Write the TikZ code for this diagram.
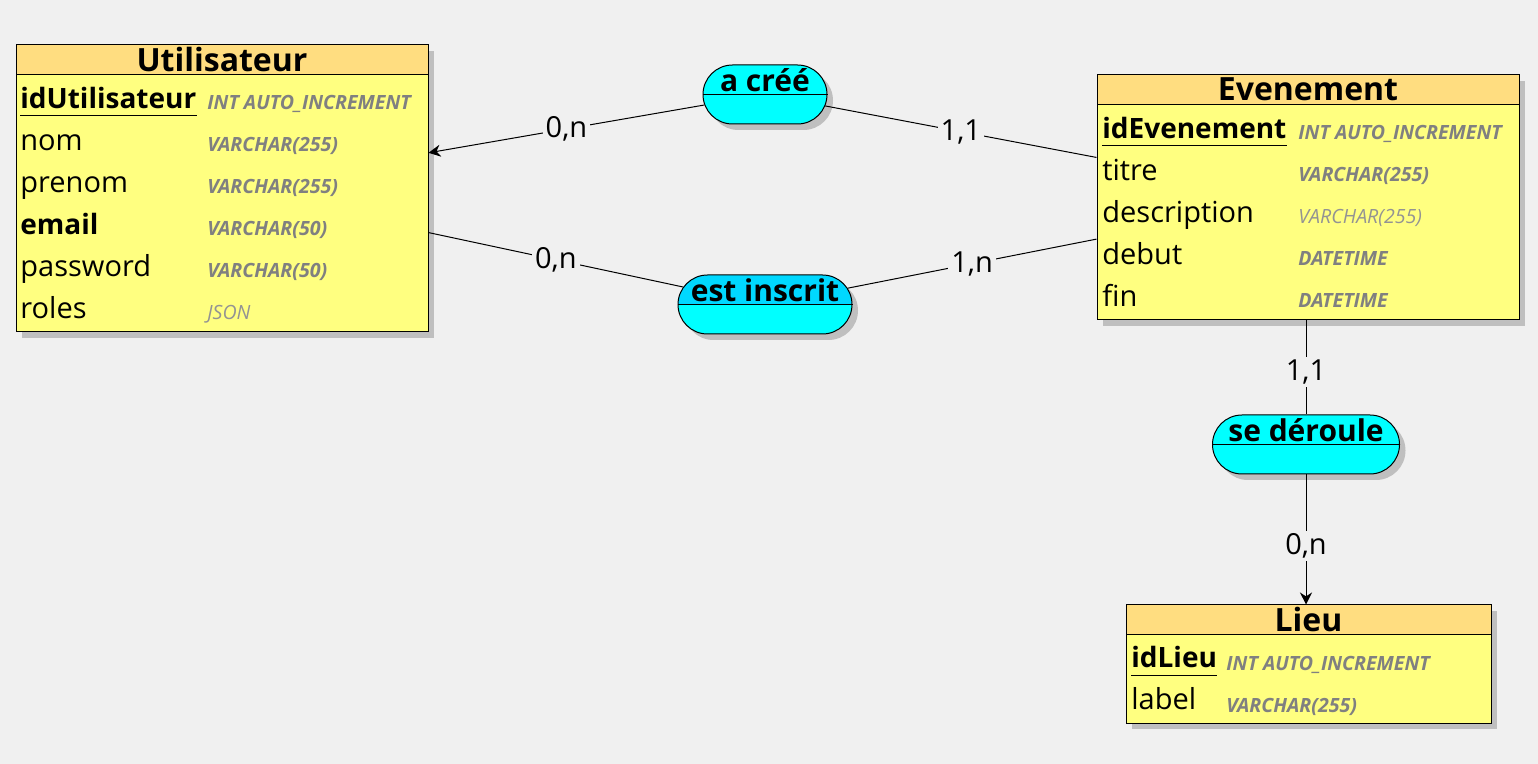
\documentclass[tikz,border=0pt]{standalone}
\usepackage{fontspec}
\setmainfont{Open Sans}
\usetikzlibrary{shapes.misc,shadows,arrows.meta}

\definecolor{bg}{HTML}{F0F0F0}
\definecolor{headcol}{HTML}{FFDD80}
\definecolor{bodycol}{HTML}{FFFF80}
\definecolor{assoccol}{HTML}{00FFFF}
\definecolor{assoctop}{HTML}{00D8FF}
\definecolor{typecol}{HTML}{808080}

\tikzset{
  entity/.style={rectangle,draw=black,fill=bodycol,line width=0.5pt,
    drop shadow={shadow xshift=3pt,shadow yshift=-3pt,fill=black!25,opacity=1}},
  head/.style={rectangle,draw=black,fill=headcol,line width=0.5pt,anchor=north,
    inner sep=0pt,text depth=1pt,font=\fontsize{16}{16}\selectfont\bfseries},
  attr/.style={anchor=base west,inner sep=0pt,font=\fontsize{14.5}{15}\selectfont},
  key/.style={attr,font=\fontsize{14}{15}\selectfont\bfseries},
  type/.style={anchor=base west,inner sep=0pt,text=typecol,
    font=\fontsize{9.8}{10}\selectfont\bfseries\itshape},
  ltype/.style={type,text=typecol!85,font=\fontsize{9.8}{10}\selectfont\itshape},
  assoc/.style={rounded rectangle,draw=black,fill=assoccol,line width=0.5pt,
    minimum height=29.5pt,inner sep=0pt,
    drop shadow={shadow xshift=3pt,shadow yshift=-3pt,fill=black!25,opacity=1}},
  assoclabel/.style={inner sep=0pt,font=\fontsize{15}{15}\selectfont\bfseries},
  card/.style={fill=bg,inner sep=1.5pt,font=\fontsize{14.5}{15}\selectfont},
  link/.style={draw=black,line width=0.5pt}
}

\begin{document}
\begin{tikzpicture}[x=0.5pt,y=-0.5pt]
   \fill[bg] (0,0) rectangle (1538,764);
   \useasboundingbox (0,0) rectangle (1538,764);

   % entities
   \node[entity,minimum width=206pt,minimum height=143.5pt] (util) at (222,188.5) {};
   \node[head,minimum width=206pt,minimum height=15pt] (utilhead) at (util.north) {Utilisateur};
   \node[key] (utilid) at (20,109) {idUtilisateur};
   \node[attr] (utilnom) at (20,151) {nom};
   \node[attr] (utilprenom) at (20,193) {prenom};
   \node[key] (utilemail) at (20,235) {email};
   \node[attr] (utilpass) at (20,277) {password};
   \node[attr] (utilroles) at (20,319) {roles};
   \node[type] (utilidt) at (207,110) {INT AUTO\_INCREMENT};
   \node[type] (utilnomt) at (207,152) {VARCHAR(255)};
   \node[type] (utilprenomt) at (207,194) {VARCHAR(255)};
   \node[type] (utilemailt) at (207,236) {VARCHAR(50)};
   \node[type] (utilpasst) at (207,278) {VARCHAR(50)};
   \node[ltype] (utilrolest) at (207,320) {JSON};
   \draw[line width=0.5pt] ([yshift=-3.5pt]utilid.base west) -- ([yshift=-3.5pt]utilid.base east);

   \node[entity,minimum width=211pt,minimum height=122.5pt] (even) at (1308,197.5) {};
   \node[head,minimum width=211pt,minimum height=15pt] (evenhead) at (even.north) {Evenement};
   \node[key] (evenid) at (1102,139) {idEvenement};
   \node[attr] (eventitre) at (1102,181) {titre};
   \node[attr] (evendesc) at (1102,223) {description};
   \node[attr] (evendebut) at (1102,265) {debut};
   \node[attr] (evenfin) at (1102,307) {fin};
   \node[type] (evenidt) at (1298,140) {INT AUTO\_INCREMENT};
   \node[type] (eventitret) at (1298,182) {VARCHAR(255)};
   \node[ltype] (evendesct) at (1298,224) {VARCHAR(255)};
   \node[type] (evendebutt) at (1298,266) {DATETIME};
   \node[type] (evenfint) at (1298,308) {DATETIME};
   \draw[line width=0.5pt] ([yshift=-3.5pt]evenid.base west) -- ([yshift=-3.5pt]evenid.base east);

   \node[entity,minimum width=182.5pt,minimum height=59pt] (lieu) at (1308.5,664) {};
   \node[head,minimum width=182.5pt,minimum height=15pt] (lieuhead) at (lieu.north) {Lieu};
   \node[key] (lieuid) at (1131,668) {idLieu};
   \node[attr] (lieulabel) at (1131,710) {label};
   \node[type] (lieuidt) at (1226,670) {INT AUTO\_INCREMENT};
   \node[type] (lieulabelt) at (1226,712) {VARCHAR(255)};
   \draw[line width=0.5pt] ([yshift=-3.5pt]lieuid.base west) -- ([yshift=-3.5pt]lieuid.base east);

   % associations
   \node[assoc,minimum width=62pt] (acree) at (765,94.5) {};
   \node[assoc,minimum width=87pt,
     path picture={\fill[assoctop] (path picture bounding box.north west) rectangle (path picture bounding box.east);}]
     (inscrit) at (765,304.5) {};
   \node[assoc,minimum width=93.5pt] (deroule) at (1306,444.5) {};
   \draw[line width=0.5pt] (acree.west) -- (acree.east);
   \draw[line width=0.5pt] (inscrit.west) -- (inscrit.east);
   \draw[line width=0.5pt] (deroule.west) -- (deroule.east);
   \node[assoclabel,anchor=base] (acreelabel) at (765,92) {a créé};
   \node[assoclabel,anchor=base] (inscritlabel) at (765,302) {est inscrit};
   \node[assoclabel,anchor=base] (deroulelabel) at (1306,442) {se déroule};

   % links
   \draw[link,-{Stealth[length=6pt,width=6pt]}] (acree) -- node[card]{0,n} (util);
   \draw[link] (acree) -- node[card]{1,1} (even);
   \draw[link] (util) -- node[card]{0,n} (inscrit);
   \draw[link] (inscrit) -- node[card]{1,n} (even);
   \draw[link] (even.south -| deroule.north) -- node[card,pos=0.55]{1,1} (deroule.north);
   \draw[link,-{Stealth[length=6pt,width=6pt]}] (deroule.south) -- node[card,pos=0.55]{0,n} (lieu.north -| deroule.south);
\end{tikzpicture}
\end{document}
